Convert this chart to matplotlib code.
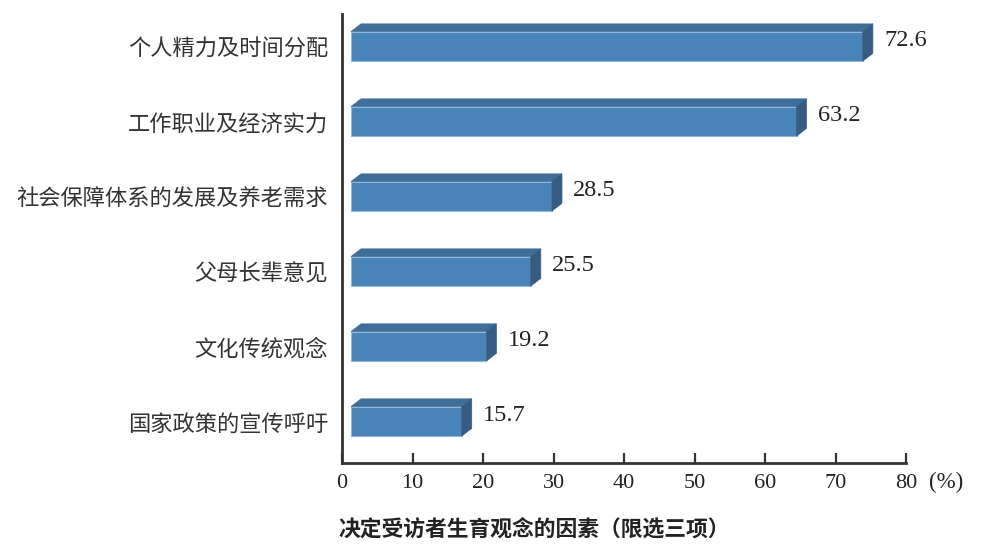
import numpy as np
import matplotlib
matplotlib.use('Agg')
import matplotlib.pyplot as plt
from matplotlib.patches import Polygon, Rectangle

# dados do grafico
categorias = ['个人精力及时间分配', '工作职业及经济实力', '社会保障体系的发展及养老需求',
              '父母长辈意见', '文化传统观念', '国家政策的宣传呼吁']
valores = [72.6, 63.2, 28.5, 25.5, 19.2, 15.7]
xticks = [0, 10, 20, 30, 40, 50, 60, 70, 80]
titulo = '决定受访者生育观念的因素（限选三项）'

plt.rcParams['font.family'] = ['Noto Sans CJK SC', 'DejaVu Sans']

cor_frente = '#4984b8'
cor_topo = '#3f6e99'
cor_lado = '#375c82'
cor_borda = '#8fb8dc'

fig = plt.figure(figsize=(10.02, 5.6), dpi=100)
# eixo: x de 342 a 906 px, y de 14 a 463 px (a partir do topo)
ax = fig.add_axes([342/1002, 97/560, 564/1002, 449/560])

x0 = 1.28     # inicio da face frontal
dx = 1.42     # profundidade em x
dy = 0.103    # profundidade em y
h = 0.393     # altura da face frontal

for i, v in enumerate(valores):
    yb = i + h/2   # base (eixo invertido)
    yt = i - h/2
    # face frontal
    ax.add_patch(Rectangle((x0, yt), v, h, facecolor=cor_frente,
                           edgecolor=cor_borda, linewidth=0.8, zorder=3))
    # topo
    topo = [(x0, yt), (x0 + dx, yt - dy), (x0 + v + dx, yt - dy), (x0 + v, yt)]
    ax.add_patch(Polygon(topo, closed=True, facecolor=cor_topo,
                         edgecolor=cor_topo, linewidth=0.5, zorder=3))
    # lado
    lado = [(x0 + v, yt), (x0 + v + dx, yt - dy), (x0 + v + dx, yb - dy), (x0 + v, yb)]
    ax.add_patch(Polygon(lado, closed=True, facecolor=cor_lado,
                         edgecolor=cor_lado, linewidth=0.5, zorder=3))
    ax.text(x0 + v + dx + 1.6, i - 0.08, f'{v:.1f}', va='center', ha='left',
            fontsize=17.5, family='Liberation Serif', color='#222222')

ax.set_xlim(0, 80)
ax.set_ylim(5.556, -0.431)

ax.set_xticks(xticks)
ax.set_xticklabels([str(t) for t in xticks], family='Liberation Serif', fontsize=16,
                   color='#222222')
ax.set_yticks(range(len(categorias)))
ax.set_yticklabels(categorias, fontsize=16, color='#333333')

ax.tick_params(axis='x', direction='in', length=7, width=1.6, color='#333333', pad=8)
ax.tick_params(axis='y', length=0, pad=10)

for s in ['top', 'right']:
    ax.spines[s].set_visible(False)
for s in ['left', 'bottom']:
    ax.spines[s].set_color('#333333')
    ax.spines[s].set_linewidth(2.0)

fig.text(929/1002, (560-482)/560, '(%)', family='Liberation Serif', fontsize=16.5,
         va='center', ha='left', color='#222222')
fig.text(338/1002, (560-530)/560, titulo, fontsize=15.7, fontweight='black',
         va='center', ha='left', color='#222222')

plt.savefig('out.png', dpi=100)
